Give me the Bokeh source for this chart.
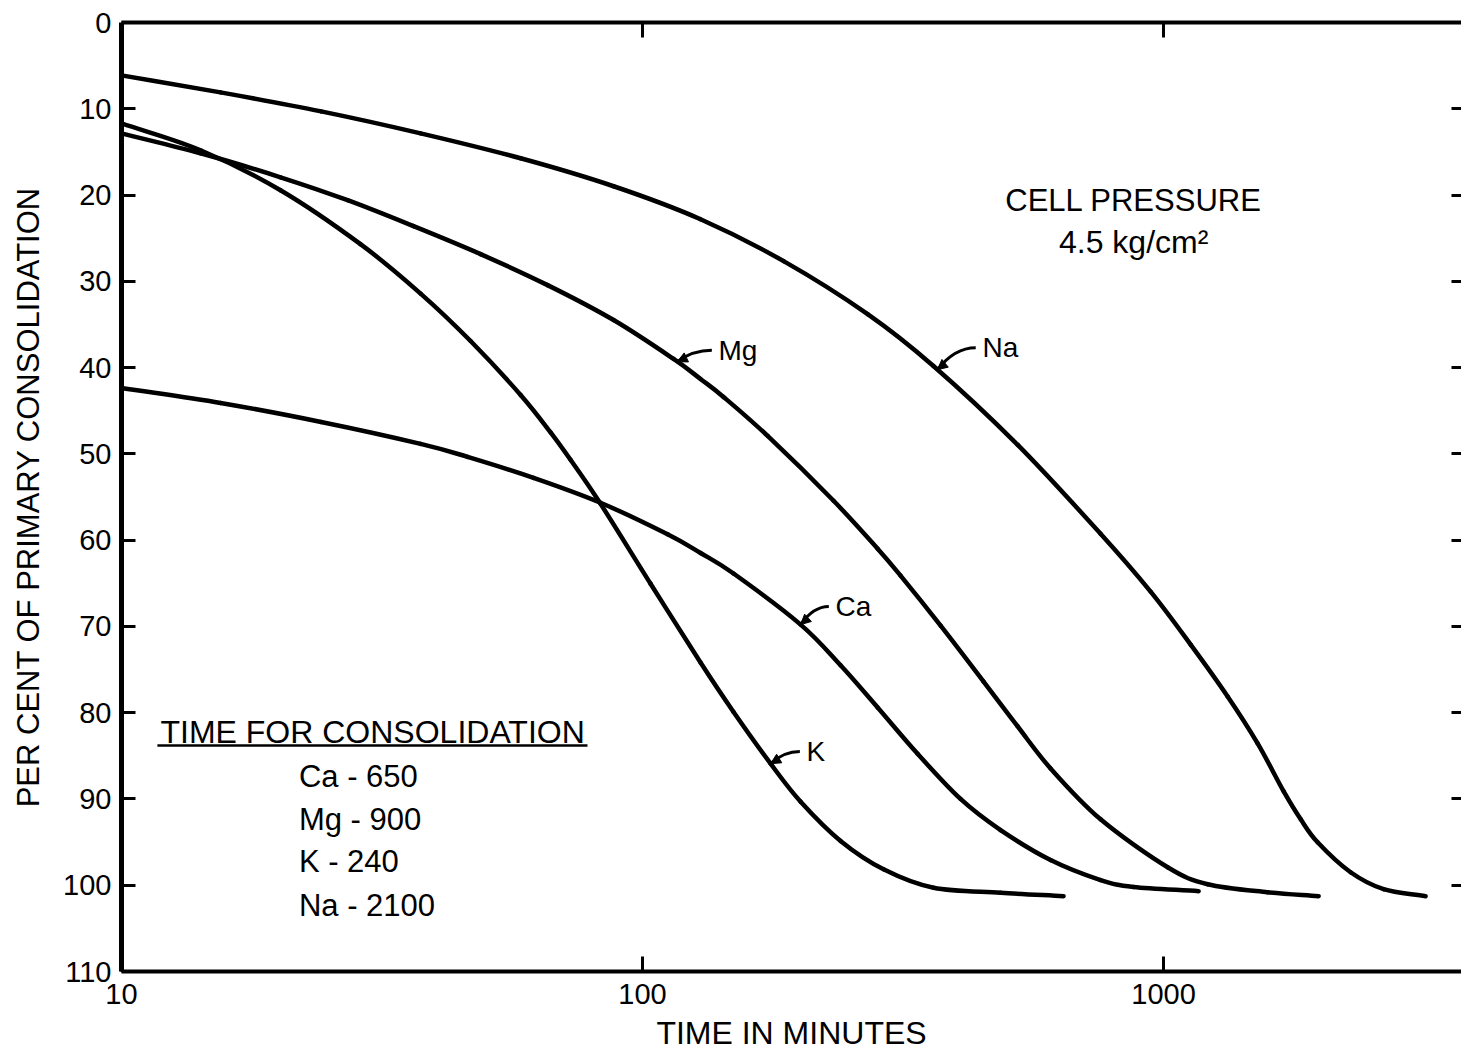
import numpy as np
from bokeh.plotting import figure
from bokeh.models import (Range1d, FixedTicker, LinearAxis, LogAxis, Label,
                          Arrow, NormalHead, PrintfTickFormatter)
from bokeh.embed import file_html
from bokeh.resources import INLINE

FONT = "Liberation Sans"

# Per cent of primary consolidation against time (minutes), one series per cation
k_time = [10, 14.18, 20.19, 28.75, 37.5, 46.77, 58.34, 66.6, 72.74, 83.06, 103.6,
          129.2, 149.5, 176.1, 201.1, 239.9, 290.1, 361.8, 486.6, 642.7]
k_pct = [11.69, 14.81, 19.44, 25.69, 31.42, 36.92, 43.17, 47.51, 50.69, 55.79, 65.05,
         74.19, 79.92, 85.91, 90.32, 94.86, 98.15, 100.29, 100.87, 101.27]

mg_time = [10, 14.18, 20.19, 27.16, 36.35, 48.88, 65.72, 87.98, 114.7, 129.2, 143.0,
           173.8, 232.6, 282.6, 312.7, 373.3, 451.3, 524.8, 606.8, 756.9,
           1018, 1215, 1583, 1984]
mg_pct = [12.85, 15.16, 17.94, 20.60, 23.61, 26.85, 30.44, 34.49, 39.00, 41.32, 43.40,
          47.92, 55.44, 61.00, 64.12, 69.91, 76.39, 81.60, 86.46, 92.36,
          97.92, 99.88, 100.81, 101.27]

ca_time = [10, 15.49, 24.16, 37.5, 46.15, 61.77, 83.06, 111.7, 129.2, 149.5,
           201.1, 239.9, 282.6, 337.2, 407.6, 486.6, 606.8, 756.9, 876.0, 1167.6]
ca_pct = [42.36, 44.10, 46.30, 48.84, 50.35, 52.78, 55.67, 59.32, 61.49, 63.87,
          69.79, 74.51, 79.40, 84.77, 90.00, 93.61, 97.08, 99.40, 100.20, 100.69]

na_time = [10, 15.49, 24.16, 37.5, 58.34, 87.98, 129.2, 186.5, 270.4, 361.6, 524.8,
           756.8, 944.2, 1127, 1327, 1515, 1700, 1833, 1975, 2285, 2644, 3183]
na_pct = [6.13, 8.10, 10.30, 12.85, 15.74, 18.98, 22.80, 27.66, 33.80, 39.81, 48.96,
          59.26, 65.97, 72.11, 78.12, 83.56, 89.12, 92.36, 95.02, 98.50, 100.46, 101.27]

# Curve name tags: where each leader touches its curve, and where the tag sits
tag_names = ["Mg", "Na", "Ca", "K"]
tag_tip_time = [116.6, 368, 201.1, 176.1]
tag_text_time = [139.9, 449, 234.6, 206.4]
tag_text_pct = [38.0, 37.7, 67.7, 84.5]

# Times for consolidation (minutes)
consol_names = ["Ca", "Mg", "K", "Na"]
consol_minutes = [650, 900, 240, 2100]
consol_rows = ["Ca - 650", "Mg - 900", "K   - 240", "Na - 2100"]

x_ticks = [10, 100, 1000]
y_ticks = list(range(0, 111, 10))


def smooth_path(t, v):
    """Cubic Bezier pieces (Catmull-Rom) through the points, in log-time space."""
    lx = np.log10(np.asarray(t, dtype=float))
    y = np.asarray(v, dtype=float)
    px = np.concatenate([[2 * lx[0] - lx[1]], lx, [2 * lx[-1] - lx[-2]]])
    py = np.concatenate([[2 * y[0] - y[1]], y, [2 * y[-1] - y[-2]]])
    i = np.arange(1, len(lx))
    c1x = px[i] + (px[i + 1] - px[i - 1]) / 6
    c1y = py[i] + (py[i + 1] - py[i - 1]) / 6
    c2x = px[i + 1] - (px[i + 2] - px[i]) / 6
    c2y = py[i + 1] - (py[i + 2] - py[i]) / 6
    return dict(x0=10 ** px[i], y0=py[i], x1=10 ** px[i + 1], y1=py[i + 1],
                cx0=10 ** c1x, cy0=c1y, cx1=10 ** c2x, cy1=c2y)


p = figure(width=1461, height=1054, x_axis_type="log",
           x_range=Range1d(10, 3730), y_range=Range1d(110, 0),
           output_backend="svg", toolbar_location=None,
           min_border_left=121, min_border_right=0,
           min_border_top=22, min_border_bottom=83)
p.outline_line_color = None
p.grid.visible = False
p.background_fill_color = "white"
p.border_fill_color = "white"

# bottom axis
xa = p.xaxis[0]
xa.ticker = FixedTicker(ticks=x_ticks, minor_ticks=[])
xa.formatter = PrintfTickFormatter(format="%d")
xa.axis_line_width = 4
xa.axis_line_color = "black"
xa.major_tick_in = 15
xa.major_tick_out = 0
xa.major_tick_line_width = 3
xa.minor_tick_line_color = None
xa.major_label_text_font = FONT
xa.major_label_text_font_size = "29px"
xa.major_label_text_color = "black"
xa.major_label_standoff = 12
xa.axis_label = "TIME IN MINUTES"
xa.axis_label_text_font = FONT
xa.axis_label_text_font_size = "32px"
xa.axis_label_text_font_style = "normal"
xa.axis_label_text_color = "black"
xa.axis_label_standoff = 8

# left axis
ya = p.yaxis[0]
ya.ticker = FixedTicker(ticks=y_ticks, minor_ticks=[])
ya.axis_line_width = 5
ya.axis_line_color = "black"
ya.major_tick_in = 14
ya.major_tick_out = 0
ya.major_tick_line_width = 3
ya.minor_tick_line_color = None
ya.major_label_text_font = FONT
ya.major_label_text_font_size = "29px"
ya.major_label_text_color = "black"
ya.major_label_standoff = 10
ya.axis_label = "PER CENT OF PRIMARY CONSOLIDATION"
ya.axis_label_text_font = FONT
ya.axis_label_text_font_size = "31px"
ya.axis_label_text_font_style = "normal"
ya.axis_label_text_color = "black"
ya.axis_label_standoff = 14

# top frame edge with inward ticks (no labels shown)
top = LogAxis(ticker=FixedTicker(ticks=[100, 1000], minor_ticks=[]),
              axis_line_width=4, major_tick_in=15, major_tick_out=0,
              major_tick_line_width=3, minor_tick_line_color=None,
              major_label_text_font_size="1px", major_label_text_alpha=0,
              major_label_standoff=0)
p.add_layout(top, "above")

# right edge: inward ticks only
right = LinearAxis(ticker=FixedTicker(ticks=y_ticks[1:-1], minor_ticks=[]),
                   axis_line_color=None, major_tick_in=10, major_tick_out=0,
                   major_tick_line_width=3, minor_tick_line_color=None,
                   major_label_text_font_size="1px", major_label_text_alpha=0,
                   major_label_standoff=0)
p.add_layout(right, "right")

series = {
    "Mg": (mg_time, mg_pct),
    "Na": (na_time, na_pct),
    "Ca": (ca_time, ca_pct),
    "K": (k_time, k_pct),
}
for name, (t, v) in series.items():
    p.bezier(**smooth_path(t, v), line_width=4.5, line_color="black",
             line_cap="round")

# name tags with curved leaders ending in a small arrowhead on the curve
for name, tip_t, txt_t, txt_v in zip(tag_names, tag_tip_time, tag_text_time, tag_text_pct):
    t, v = series[name]
    tip_v = float(np.interp(np.log10(tip_t), np.log10(t), v))
    tail_t = txt_t / 1.03
    tail_v = txt_v
    ctrl_t = 10 ** (np.log10(tip_t) + 0.45 * (np.log10(tail_t) - np.log10(tip_t)))
    ctrl_v = tail_v + 0.35 * (tip_v - tail_v)
    p.quadratic(x0=[tail_t], y0=[tail_v], x1=[tip_t], y1=[tip_v],
                cx=[ctrl_t], cy=[tail_v], line_width=3, line_color="black")
    p.add_layout(Arrow(end=NormalHead(size=10, fill_color="black", line_color="black"),
                       x_start=ctrl_t, y_start=ctrl_v, x_end=tip_t, y_end=tip_v,
                       line_alpha=0))
    p.add_layout(Label(x=txt_t, y=txt_v, text=name, text_font=FONT,
                       text_font_size="28px", text_baseline="middle",
                       text_align="left", text_color="black"))

# cell pressure note
p.add_layout(Label(x=876, y=20.6, text="CELL PRESSURE", text_font=FONT,
                   text_font_size="31px", text_align="center",
                   text_baseline="middle", text_color="black"))
p.add_layout(Label(x=876, y=25.5, text="4.5 kg/cm\u00b2", text_font=FONT,
                   text_font_size="32px", text_align="center",
                   text_baseline="middle", text_color="black"))

# consolidation-time table
p.add_layout(Label(x=11.88, y=82.2, text="TIME FOR CONSOLIDATION", text_font=FONT,
                   text_font_size="32px", text_align="left",
                   text_baseline="middle", text_color="black"))
p.line([11.72, 78.4], [83.8, 83.8], line_width=2.5, line_color="black")
row_pct = [87.4, 92.4, 97.3, 102.4]
for row, v in zip(consol_rows, row_pct):
    p.add_layout(Label(x=21.9, y=v, text=row, text_font=FONT,
                       text_font_size="31px", text_align="left",
                       text_baseline="middle", text_color="black"))

open("out.html", "w").write(file_html(p, INLINE))
